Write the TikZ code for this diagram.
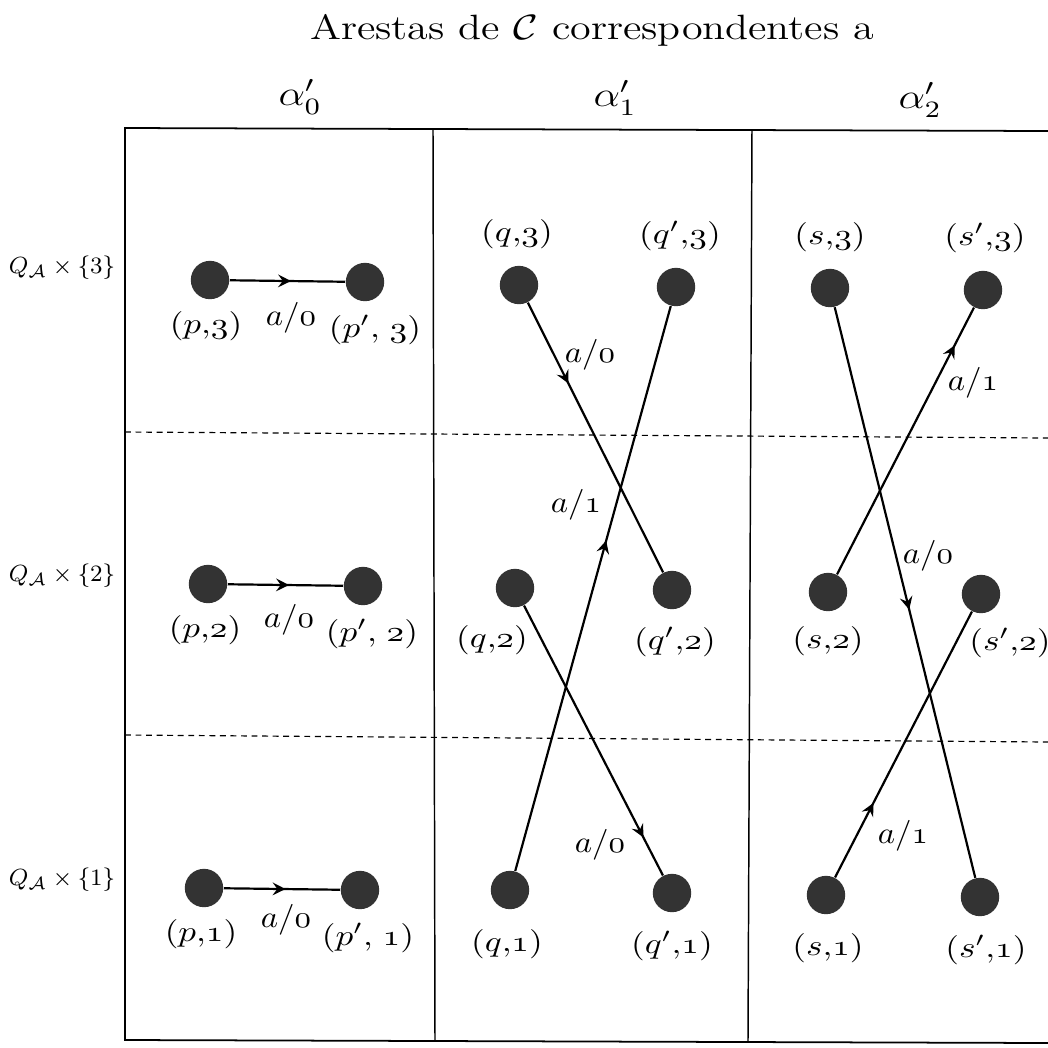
\documentclass[tikz,border=0pt]{standalone}
\usepackage{amsmath}
\usepackage{amssymb}
\usepackage{tikz}
\usetikzlibrary{arrows,decorations.markings,positioning}
\tikzstyle{state} = [circle, fill=black!80, minimum size=4.6mm, inner sep=0]
\tikzstyle{trans} = [line width=0.75pt]
\tikzstyle{sep} = [line width=0.4pt, dash pattern=on 2pt off 1.6pt]
\tikzstyle{statename} = [xscale=1.2]
\tikzstyle{edgelab} = [xscale=1.12, yscale=1.05]
\tikzstyle{headtext} = [font=\large, xscale=1.2]
\tikzset{midarrow/.style={postaction={decorate},
    decoration={markings,mark=at position #1 with {\arrow[scale=1.1]{stealth}}}}}
\newcommand{\os}[1]{\mathnormal{#1}}

\begin{document}
\begin{tikzpicture}[x=0.012cm, y=-0.012cm]
\useasboundingbox (0,0) rectangle (1048,1048);

% Title and column heads
\node[headtext] (title) at (592,30) {Arestas de $\mathcal{C}$ correspondentes a};
\node[headtext] (head0) at (300,97) {$\alpha'_0$};
\node[headtext] (head1) at (615,98) {$\alpha'_1$};
\node[headtext] (head2) at (920,100) {$\alpha'_2$};

% Frame
\draw[line width=0.6pt] (1048,131) -- (125,128) -- (125,1040) -- (1048,1043);
\draw[line width=0.5pt] (433,128) -- (435,1041);
\draw[line width=0.5pt] (752,130) -- (748,1042);
\draw[sep] (125,432) -- (1048,438);
\draw[sep] (125,735) -- (1048,742);

% Row labels
\node[font=\footnotesize] (row3) at (62,268) {$Q_{\mathcal{A}}\times\{3\}$};
\node[font=\footnotesize] (row2) at (62,576) {$Q_{\mathcal{A}}\times\{2\}$};
\node[font=\footnotesize] (row1) at (62,880) {$Q_{\mathcal{A}}\times\{1\}$};

% States for alpha'_0
\node[state] (p3) at (210,280) {};
\node[state] (pp3) at (365,282) {};
\node[state] (p2) at (208,584) {};
\node[state] (pp2) at (363,586) {};
\node[state] (p1) at (204,888) {};
\node[state] (pp1) at (360,890) {};

% States for alpha'_1
\node[state] (q3) at (519,285) {};
\node[state] (qq3) at (676,287) {};
\node[state] (q2) at (515,588) {};
\node[state] (qq2) at (672,590) {};
\node[state] (q1) at (510,890) {};
\node[state] (qq1) at (672,893) {};

% States for alpha'_2
\node[state] (s3) at (830,288) {};
\node[state] (ss3) at (983,290) {};
\node[state] (s2) at (828,592) {};
\node[state] (ss2) at (981,594) {};
\node[state] (s1) at (826,895) {};
\node[state] (ss1) at (980,897) {};

% State names
\node[statename] (np3) at (206,326) {$(p{,}\os{3})$};
\node[statename] (npp3) at (375,330) {$(p'{,}\;\os{3})$};
\node[statename] (np2) at (205,630) {$(p{,}\os{2})$};
\node[statename] (npp2) at (372,634) {$(p'{,}\;\os{2})$};
\node[statename] (np1) at (201,934) {$(p{,}\os{1})$};
\node[statename] (npp1) at (368,938) {$(p'{,}\;\os{1})$};

\node[statename] (nq3) at (517,234) {$(q{,}\os{3})$};
\node[statename] (nqq3) at (680,236) {$(q'{,}\os{3})$};
\node[statename] (nq2) at (492,640) {$(q{,}\os{2})$};
\node[statename] (nqq2) at (675,642) {$(q'{,}\os{2})$};
\node[statename] (nq1) at (507,944) {$(q{,}\os{1})$};
\node[statename] (nqq1) at (672,946) {$(q'{,}\os{1})$};

\node[statename] (ns3) at (830,237) {$(s{,}\os{3})$};
\node[statename] (nss3) at (985,238) {$(s'{,}\os{3})$};
\node[statename] (ns2) at (828,641) {$(s{,}\os{2})$};
\node[statename] (nss2) at (1010,643) {$(s'{,}\os{2})$};
\node[statename] (ns1) at (828,948) {$(s{,}\os{1})$};
\node[statename] (nss1) at (986,950) {$(s'{,}\os{1})$};

% Transitions
\draw[trans, midarrow=0.53] (p3) -- (pp3);
\draw[trans, midarrow=0.53] (p2) -- (pp2);
\draw[trans, midarrow=0.53] (p1) -- (pp1);
\draw[trans, midarrow=0.30] (q3) -- (qq2);
\draw[trans, midarrow=0.585] (q1) -- (qq3);
\draw[trans, midarrow=0.86] (q2) -- (qq1);
\draw[trans, midarrow=0.86] (s2) -- (ss3);
\draw[trans, midarrow=0.53] (s3) -- (ss1);
\draw[trans, midarrow=0.28] (s1) -- (ss2);

% Transition labels
\node[edgelab] (lp3) at (291,318) {$a/\os{0}$};
\node[edgelab] (lp2) at (289,620) {$a/\os{0}$};
\node[edgelab] (lp1) at (286,920) {$a/\os{0}$};
\node[edgelab] (lq3) at (590,355) {$a/\os{0}$};
\node[edgelab] (lq1) at (576,505) {$a/\os{1}$};
\node[edgelab] (lq2) at (600,845) {$a/\os{0}$};
\node[edgelab] (ls2) at (973,383) {$a/\os{1}$};
\node[edgelab] (ls3) at (928,556) {$a/\os{0}$};
\node[edgelab] (ls1) at (903,836) {$a/\os{1}$};

\end{tikzpicture}
\end{document}
